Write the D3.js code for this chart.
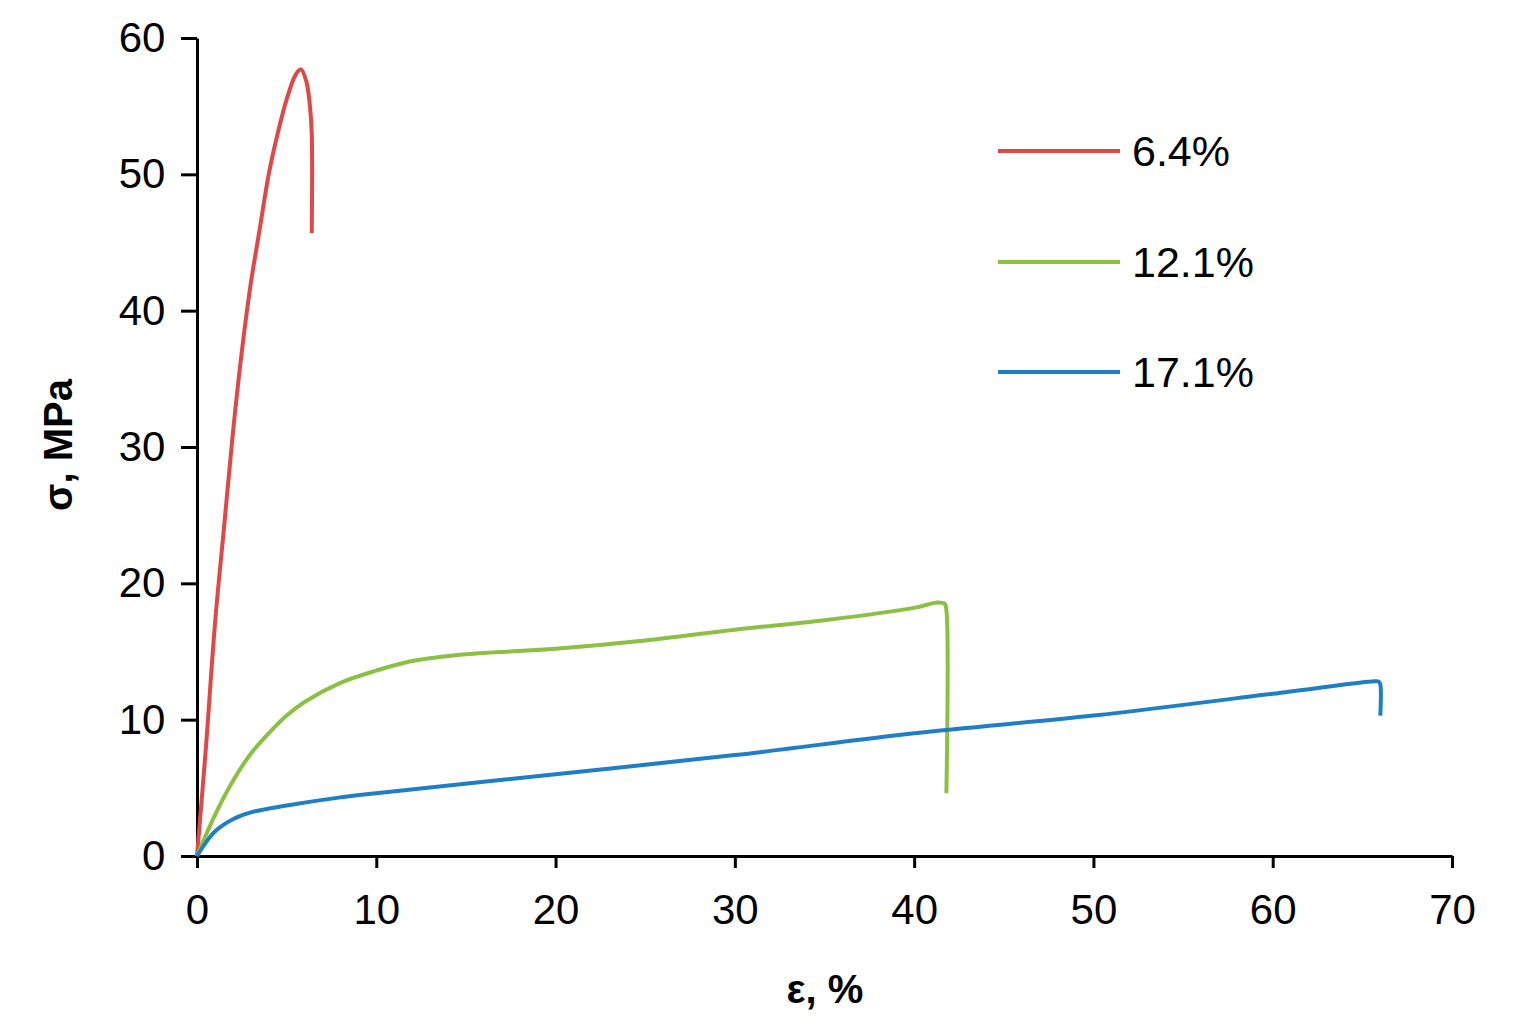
<!DOCTYPE html><html><head><script src="https://cdn.jsdelivr.net/npm/d3@7"></script>
<style>body{margin:0;background:#fff}</style></head><body><svg id="c" width="1516" height="1034"></svg>
<script>
const names=["6.4%","12.1%","17.1%"];
const colors=["#e04848","#8cc043","#1f7fc4"];
const redX=[0,0.5,1,1.5,2,2.5,3,3.5,4,4.5,5,5.5,5.8,6.1,6.3,6.4,6.4];
const redY=[0,8,17,24,31,37,42,46,50,53,55.5,57.3,57.7,56.8,55,53,45.7];
const greenX=[0,1,2,3,4,5,6,8,10,12,15,20,25,30,35,40,41.3,41.7,41.8,41.8];
const greenY=[0,3,5.5,7.5,9,10.3,11.3,12.7,13.6,14.3,14.8,15.2,15.8,16.6,17.3,18.2,18.6,18.5,18.0,4.6];
const blueX=[0,0.5,1,2,3,5,8,10,20,30,40,50,60,65.5,65.9,66,66];
const blueY=[0,1,1.8,2.7,3.2,3.7,4.3,4.6,6,7.4,9,10.3,11.9,12.8,12.8,12.6,10.3];
const xTicks=[0,10,20,30,40,50,60,70], yTicks=[0,10,20,30,40,50,60];
const svg=d3.select("#c");
const x=d3.scaleLinear().domain([0,70]).range([197,1452]);
const y=d3.scaleLinear().domain([0,60]).range([856,38]);
const ax=svg.append("g").attr("transform","translate(0,856)").call(d3.axisBottom(x).tickValues(xTicks).tickSize(12).tickSizeOuter(0));
const ay=svg.append("g").attr("transform","translate(197,0)").call(d3.axisLeft(y).tickValues(yTicks).tickSize(16).tickSizeOuter(0));
[ax,ay].forEach(a=>{a.selectAll("path,line").attr("stroke","#000").attr("stroke-width",3);
 a.selectAll("text").attr("font-family","Liberation Sans, Arial").attr("font-size",42).attr("fill","#000");});
ax.selectAll("text").attr("dy","1.25em");
ay.selectAll("text").attr("dx","-0.3em");
const series=[[redX,redY],[greenX,greenY],[blueX,blueY]];
series.forEach((s,i)=>{const pts=s[0].map((v,j)=>[v,s[1][j]]);
 svg.append("path").attr("d",d3.line().x(d=>x(d[0])).y(d=>y(d[1])).curve(d3.curveCatmullRom)(pts)).attr("fill","none").attr("stroke",colors[i]).attr("stroke-width",4);});
const ly=[151,262,372];
names.forEach((n,i)=>{svg.append("line").attr("x1",998).attr("x2",1120).attr("y1",ly[i]).attr("y2",ly[i]).attr("stroke",colors[i]).attr("stroke-width",4);
 svg.append("text").attr("x",1132).attr("y",ly[i]+15).text(n).attr("font-family","Liberation Sans, Arial").attr("font-size",43);});
svg.append("text").attr("x",825).attr("y",1003).attr("text-anchor","middle").text("ε, %").attr("font-family","Liberation Sans, Arial").attr("font-size",40).attr("font-weight","bold");
svg.append("text").attr("transform","translate(72,445) rotate(-90)").attr("text-anchor","middle").text("σ, MPa").attr("font-family","Liberation Sans, Arial").attr("font-size",40).attr("font-weight","bold");
</script></body></html>
